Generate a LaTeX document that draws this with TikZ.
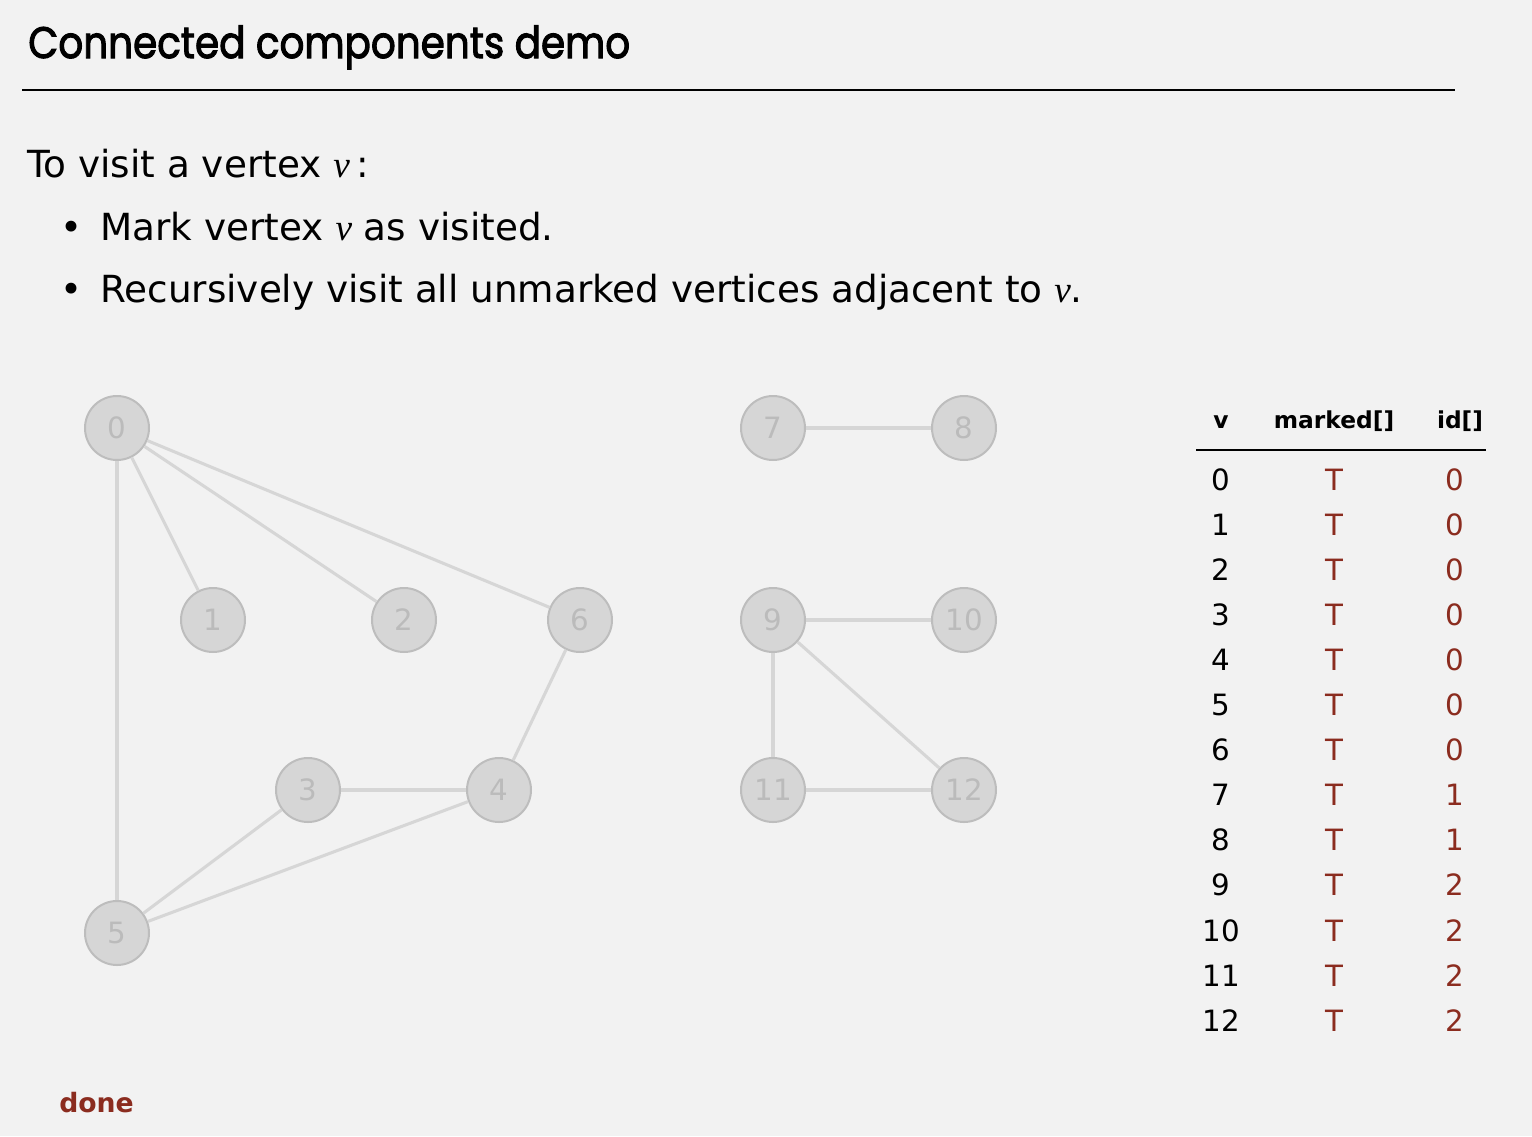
\documentclass[tikz,border=0pt]{standalone}
\usepackage{fontspec}
\setmainfont{DejaVu Sans}
\newfontfamily\titlefont{Poppins}[FakeBold=2.5]
\newfontfamily\varfont{Liberation Serif}
\definecolor{bg}{HTML}{F2F2F2}
\definecolor{vfill}{HTML}{D6D6D6}
\definecolor{vline}{HTML}{BDBDBD}
\definecolor{vtext}{HTML}{BBBBBB}
\definecolor{edgec}{HTML}{D6D6D6}
\definecolor{rust}{HTML}{8B2C1F}
\begin{document}
\begin{tikzpicture}[x=0.75pt,y=-0.75pt,
  vertex/.style={circle,fill=vfill,draw=vline,line width=1.5pt,minimum size=48pt,inner sep=0pt,
    text=vtext,font=\fontsize{22}{22}\selectfont},
  edge/.style={draw=edgec,line width=2.3pt},
  body/.style={anchor=base west,inner sep=0pt,font=\fontsize{28}{28}\selectfont},
  cell/.style={anchor=base,inner sep=0pt,font=\fontsize{22}{22}\selectfont},
  hdr/.style={anchor=base,inner sep=0pt,font=\fontsize{17.5}{17.5}\selectfont\bfseries}]
\fill[bg] (0,0) rectangle (1532,1136);
\useasboundingbox (0,0) rectangle (1532,1136);

% heading
\node[anchor=base west,inner sep=0pt,font=\titlefont\fontsize{33}{33}\selectfont] (title) at (28,58)
  {\scalebox{0.885}[1]{Connected components demo}};
\coordinate (rl) at (22,90);
\coordinate (rr) at (1455,90);
\draw[line width=1.4pt] (rl) -- (rr);

% description
\node[body] (t0) at (27,177) {To visit a vertex {\varfont\itshape v}\,:};
\node[body] (b1) at (60,240) {\textbullet};
\node[body] (t1) at (100,240) {Mark vertex {\varfont\itshape v} as visited.};
\node[body] (b2) at (60,302) {\textbullet};
\node[body] (t2) at (100,302) {Recursively visit all unmarked vertices adjacent to {\varfont\itshape v}.};

% vertices
\node[vertex] (v0) at (117,428) {0};
\node[vertex] (v1) at (213,620) {1};
\node[vertex] (v2) at (404,620) {2};
\node[vertex] (v6) at (580,620) {6};
\node[vertex] (v3) at (308,790) {3};
\node[vertex] (v4) at (499,790) {4};
\node[vertex] (v5) at (117,933) {5};
\node[vertex] (v7) at (773,428) {7};
\node[vertex] (v8) at (964,428) {8};
\node[vertex] (v9) at (773,620) {9};
\node[vertex] (v10) at (964,620) {10};
\node[vertex] (v11) at (773,790) {11};
\node[vertex] (v12) at (964,790) {12};

% edges
\foreach \a/\b in {v0/v1,v0/v2,v0/v6,v0/v5,v6/v4,v3/v4,v3/v5,v4/v5,v7/v8,v9/v10,v9/v11,v9/v12,v11/v12}
  \draw[edge] (\a) -- (\b);

% table
\node[hdr] (hv) at (1221,428) {v};
\node[hdr] (hm) at (1334,428) {marked[]};
\node[hdr] (hi) at (1460,428) {id[]};
\coordinate (tl) at (1196,450);
\coordinate (tr) at (1486,450);
\draw[line width=1.2pt] (tl) -- (tr);
\foreach \v/\i [count=\k from 0] in {0/0,1/0,2/0,3/0,4/0,5/0,6/0,7/1,8/1,9/2,10/2,11/2,12/2} {
  \node[cell] (r\k v) at (1221,{490+45.1*\k}) {\v};
  \node[cell,text=rust] (r\k m) at (1334,{490+45.1*\k}) {T};
  \node[cell,text=rust] (r\k i) at (1455,{490+45.1*\k}) {\i};
}

\node[anchor=base west,inner sep=0pt,text=rust,font=\fontsize{20}{20}\selectfont\bfseries] (done) at (59,1112) {done};
\end{tikzpicture}
\end{document}
